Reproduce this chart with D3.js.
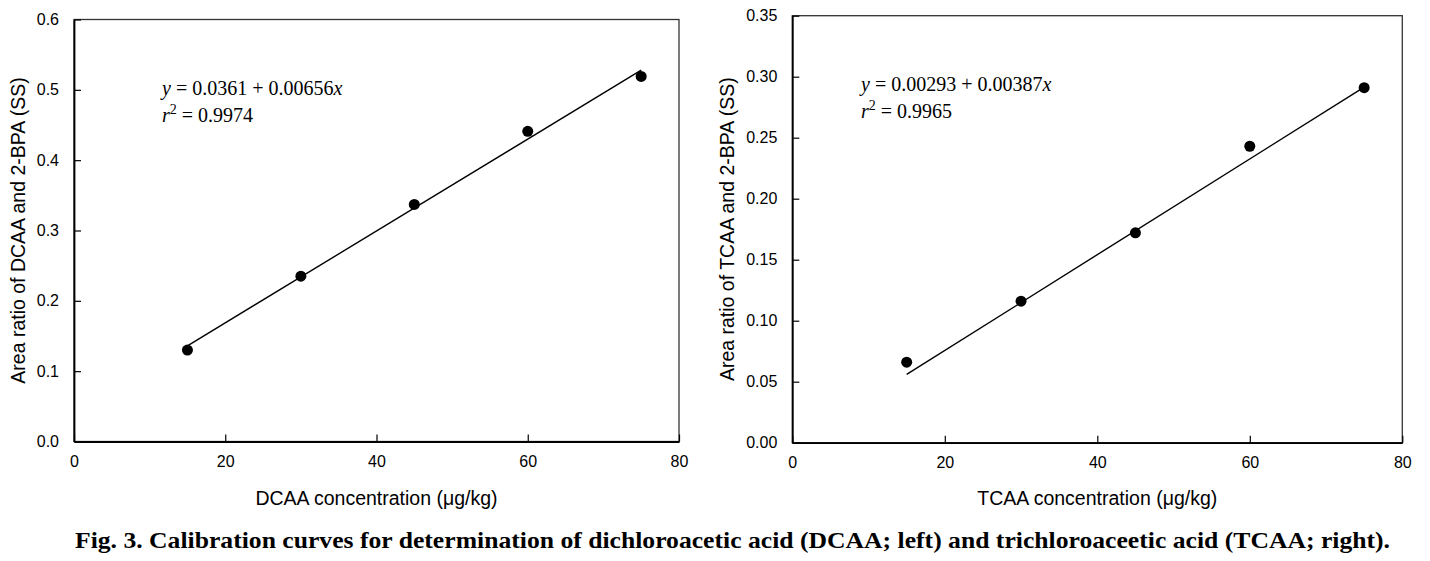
<!DOCTYPE html>
<html>
<head>
<meta charset="utf-8">
<script src="https://cdn.jsdelivr.net/npm/d3@7"></script>
<style>
  html, body { margin: 0; padding: 0; background: #fff; }
  svg { display: block; }
</style>
</head>
<body>
<svg id="chart" width="1430" height="561"></svg>
<script>
// ---------- data ----------
const concentrations = [15, 30, 45, 60, 75];
const dcaaRatio = [0.130, 0.235, 0.337, 0.441, 0.519];
const tcaaRatio = [0.066, 0.116, 0.172, 0.243, 0.291];
// fitted line end points (x = 15 and x = 75)
const dcaaFitX = [15, 75];
const dcaaFitY = [0.136, 0.528];
const tcaaFitX = [15, 75];
const tcaaFitY = [0.056, 0.2915];
const xTicks = [0, 20, 40, 60, 80];
const dcaaTicks = [0.0, 0.1, 0.2, 0.3, 0.4, 0.5, 0.6];
const tcaaTicks = [0.00, 0.05, 0.10, 0.15, 0.20, 0.25, 0.30, 0.35];
const dcaaEq = ["0.0361", "0.00656", "0.9974"];
const tcaaEq = ["0.00293", "0.00387", "0.9965"];
const caption = "Fig. 3. Calibration curves for determination of dichloroacetic acid (DCAA; left) and trichloroaceetic acid (TCAA; right).";

const svg = d3.select("#chart");
const sans = "Liberation Sans, Arial, sans-serif";
const serif = "Liberation Serif, Times New Roman, serif";

function panel(opts) {
  const { left, right, top, bottom, yMax, yTicks, yFmt, ys, fitX, fitY,
          xTitle, yTitle, yTitleX, eq, eqX, eqY } = opts;
  const x = d3.scaleLinear().domain([0, 80]).range([left, right]);
  const y = d3.scaleLinear().domain([0, yMax]).range([bottom, top]);
  const g = svg.append("g");

  g.append("rect")
    .attr("x", left).attr("y", top)
    .attr("width", right - left).attr("height", bottom - top)
    .attr("fill", "none").attr("stroke", "#333").attr("stroke-width", 1.3);

  const xa = g.append("g").attr("transform", `translate(0,${bottom})`)
    .call(d3.axisBottom(x).tickValues(xTicks).tickSizeInner(-7).tickSizeOuter(0).tickPadding(14).tickFormat(d3.format("d")));
  xa.select(".domain").attr("stroke", "#000").attr("stroke-width", 1.8);
  xa.selectAll(".tick line").attr("stroke", "#000").attr("stroke-width", 1.2);
  xa.selectAll("text").attr("font-family", sans).attr("font-size", 16).attr("fill", "#000");

  const ya = g.append("g").attr("transform", `translate(${left},0)`)
    .call(d3.axisLeft(y).tickValues(yTicks).tickSizeInner(-7).tickSizeOuter(0).tickPadding(15).tickFormat(d3.format(yFmt)));
  ya.select(".domain").attr("stroke", "#000").attr("stroke-width", 1.8);
  ya.selectAll(".tick line").attr("stroke", "#000").attr("stroke-width", 1.2);
  ya.selectAll("text").attr("font-family", sans).attr("font-size", 16).attr("fill", "#000");

  const line = d3.line().x(d => x(d[0])).y(d => y(d[1]));
  g.append("path")
    .datum(fitX.map((v, i) => [v, fitY[i]]))
    .attr("d", line).attr("fill", "none").attr("stroke", "#000").attr("stroke-width", 1.4);

  g.selectAll("circle.pt").data(concentrations.map((c, i) => [c, ys[i]]))
    .join("circle").attr("class", "pt")
    .attr("cx", d => x(d[0])).attr("cy", d => y(d[1])).attr("r", 5.5).attr("fill", "#000");

  g.append("text")
    .attr("x", (left + right) / 2).attr("y", 505)
    .attr("text-anchor", "middle").attr("font-family", sans).attr("font-size", 19.5)
    .text(xTitle);
  g.append("text")
    .attr("transform", `translate(${yTitleX},${(top + bottom) / 2}) rotate(-90)`)
    .attr("text-anchor", "middle").attr("font-family", sans).attr("font-size", 19.5)
    .text(yTitle);

  const t1 = g.append("text").attr("x", eqX).attr("y", eqY)
    .attr("font-family", serif).attr("font-size", 20);
  t1.append("tspan").attr("font-style", "italic").text("y");
  t1.append("tspan").text(` = ${eq[0]} + ${eq[1]}`);
  t1.append("tspan").attr("font-style", "italic").text("x");
  const t2 = g.append("text").attr("x", eqX).attr("y", eqY + 27)
    .attr("font-family", serif).attr("font-size", 20);
  t2.append("tspan").attr("font-style", "italic").text("r");
  t2.append("tspan").attr("font-size", 14).attr("dy", -8).text("2");
  t2.append("tspan").attr("dy", 8).text(` = ${eq[2]}`);
}

panel({
  left: 74, right: 679, top: 19.5, bottom: 441.5, yMax: 0.6, yTicks: dcaaTicks, yFmt: ".1f",
  ys: dcaaRatio, fitX: dcaaFitX, fitY: dcaaFitY,
  xTitle: "DCAA concentration (\u03bcg/kg)", yTitle: "Area ratio of DCAA and 2-BPA (SS)", yTitleX: 25,
  eq: dcaaEq, eqX: 162, eqY: 95
});
panel({
  left: 792.3, right: 1402.3, top: 15.7, bottom: 442.7, yMax: 0.35, yTicks: tcaaTicks, yFmt: ".2f",
  ys: tcaaRatio, fitX: tcaaFitX, fitY: tcaaFitY,
  xTitle: "TCAA concentration (\u03bcg/kg)", yTitle: "Area ratio of TCAA and 2-BPA (SS)", yTitleX: 734,
  eq: tcaaEq, eqX: 861, eqY: 91
});

svg.append("text")
  .attr("x", 732.5).attr("y", 548)
  .attr("text-anchor", "middle").attr("font-family", serif).attr("font-weight", "bold").attr("font-size", 24)
  .attr("textLength", 1315).attr("lengthAdjust", "spacingAndGlyphs")
  .text(caption);
</script>
</body>
</html>
